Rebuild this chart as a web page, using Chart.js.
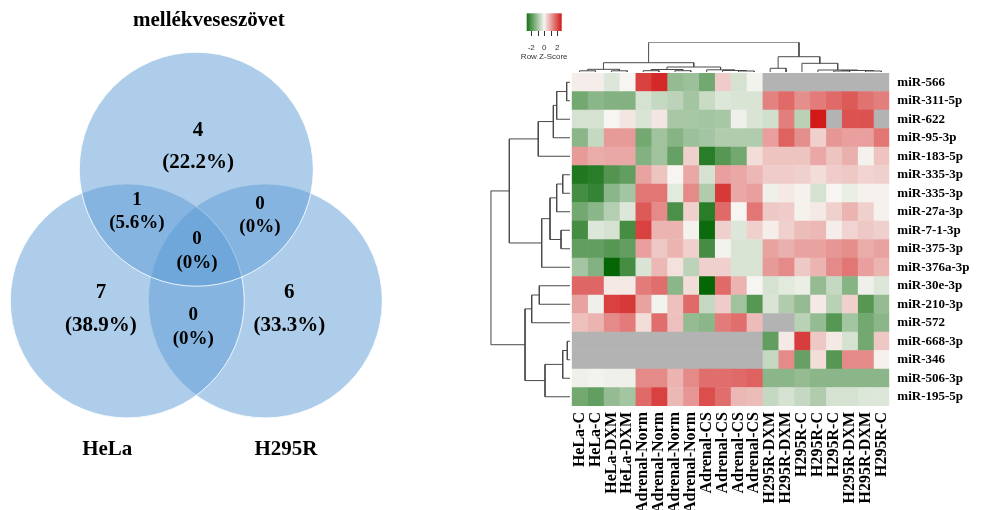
<!DOCTYPE html>
<html>
<head>
<meta charset="utf-8">
<script src="https://cdn.jsdelivr.net/npm/chart.js@4.4.1/dist/chart.umd.min.js"></script>
<style>
  html, body { margin: 0; padding: 0; background: #fff; }
  #wrap { position: relative; width: 985px; height: 510px; }
  canvas { position: absolute; left: 0; top: 0; }
</style>
</head>
<body>
<div id="wrap">
  <canvas id="venn" width="985" height="510"></canvas>
  <canvas id="heat" width="985" height="510"></canvas>
  <canvas id="colTree" width="985" height="510"></canvas>
  <canvas id="rowTree" width="985" height="510"></canvas>
</div>
<script>
// ---- Venn data ----
const setLabels = ['mellékveseszövet', 'HeLa', 'H295R'];
// regions: top only, HeLa only, H295R only, top∩HeLa, top∩H295R, all three, HeLa∩H295R
const regionCounts = [4, 7, 6, 1, 0, 0, 0];

// ---- heatmap data ----
const colLabels = ['HeLa-C', 'HeLa-C', 'HeLa-DXM', 'HeLa-DXM',
  'Adrenal-Norm', 'Adrenal-Norm', 'Adrenal-Norm', 'Adrenal-Norm',
  'Adrenal-CS', 'Adrenal-CS', 'Adrenal-CS', 'Adrenal-CS',
  'H295R-DXM', 'H295R-DXM', 'H295R-C', 'H295R-C', 'H295R-C', 'H295R-DXM', 'H295R-DXM', 'H295R-C'];
const rowLabels = ['miR-566', 'miR-311-5p', 'miR-622', 'miR-95-3p', 'miR-183-5p', 'miR-335-3p',
  'miR-335-3p', 'miR-27a-3p', 'miR-7-1-3p', 'miR-375-3p', 'miR-376a-3p', 'miR-30e-3p',
  'miR-210-3p', 'miR-572', 'miR-668-3p', 'miR-346', 'miR-506-3p', 'miR-195-5p'];
const _ = null; // not detected
const zScores = [
  [0.1, 0.1, -0.3, 0, 2.2, 2.5, -1.2, -1.1, -1.6, 0.5, -0.4, -0.05, _, _, _, _, _, _, _, _],
  [-1.6, -1.3, -1.4, -1.4, -0.4, -0.6, -0.7, -1.0, -0.55, -0.3, -0.35, -0.35, 1.4, 1.7, 1.25, 1.5, 1.7, 1.9, 1.6, 1.45],
  [-0.4, -0.4, 0, 0.2, -0.35, 0.2, -0.95, -0.95, -1.0, -0.95, -0.1, -0.35, -0.45, 1.45, -0.75, 2.7, _, 2.0, 2.0, _],
  [-1.3, -0.6, 1.1, 1.1, -1.6, -1.05, -1.35, -1.1, -1.0, -0.85, -0.85, -0.85, 1.05, 1.8, 1.25, 0.45, 1.15, 1.05, 1.05, 1.55],
  [1.1, 0.9, 0.95, 0.95, -1.4, -1.05, -1.75, 0.45, -2.5, -1.95, -1.6, 0.3, 0.6, 0.6, 0.6, 0.95, 0.6, 0.85, 0.05, 0.6],
  [-2.6, -2.5, -2.0, -1.8, 1.0, 0.6, 0, 0.95, -0.4, 1.05, 0.95, 0.75, 0.5, 0.5, 0.45, 0.3, 0.5, 0.55, 0.4, 0.45],
  [-2.15, -2.35, -1.3, -1.0, 1.55, 1.55, -0.25, 1.3, -0.85, 2.3, 0.95, 1.05, -0.1, 0.15, 0.05, -0.4, 0, -0.15, 0.05, 0.05],
  [-1.6, -1.3, -0.8, -0.3, 1.9, 1.3, -2.1, 0.45, -2.5, 1.7, 0, 1.55, 0.55, 0.5, 0.05, 0.15, 0.45, 0.8, 0.45, 0.05],
  [-2.15, -0.3, -0.4, -2.15, 2.2, 0.8, 0.8, 0.05, -2.85, 0.45, -0.3, 0.45, 0.1, 0.45, 0.7, 0.75, 0.1, 0.4, 0.55, 0.45],
  [-1.8, -1.8, -1.95, -1.8, 1.05, 0.55, 0.8, 0.45, -2.15, -0.05, -0.35, -0.35, 1.0, 0.85, 1.0, 1.0, 1.15, 1.25, 0.9, 1.0],
  [-1.0, -1.4, -2.95, -2.15, -0.35, 0.75, 0.25, -0.7, 0.45, 0.45, -0.35, -0.35, 1.1, 1.3, 0.55, 0.8, 1.3, 1.55, 1.05, 0.8],
  [1.75, 1.75, 0.15, 0.15, 1.5, 1.65, -1.3, 0.3, -2.95, 1.7, 0.8, 0, -0.4, -0.25, -0.15, -1.2, -0.6, -1.35, -0.1, -0.3],
  [1.0, -0.1, 2.2, 2.3, 1.0, -0.05, 0.65, 1.7, -0.6, 0.5, -1.05, -1.95, -0.35, -0.85, -1.2, 0.15, -0.75, 0.45, -1.95, -1.2],
  [0.65, 0.8, 1.3, 1.5, 0.3, 1.65, 0.65, -1.2, -1.3, 1.5, 1.65, 0.7, _, _, -0.75, -1.2, -1.95, -1.0, -1.6, -1.3],
  [_, _, _, _, _, _, _, _, _, _, _, _, -1.8, 0.15, 2.25, 0.55, 0.15, -0.4, -1.6, 0.55],
  [_, _, _, _, _, _, _, _, _, _, _, _, -0.6, 1.3, -1.75, 0.3, -1.95, 1.3, 1.3, 0.05],
  [-0.1, -0.05, -0.1, -0.1, 1.3, 1.3, 0.8, 1.3, 1.65, 1.65, 1.7, 1.8, -1.3, -1.3, -1.2, -1.3, -1.3, -1.3, -1.3, -1.3],
  [-1.6, -1.8, -1.2, -1.0, 1.7, 2.2, 0.75, 1.15, 2.05, 1.65, 0.75, 0.7, -0.6, -0.4, -0.6, -0.85, -0.4, -0.4, -0.3, -0.3]
];
const keyTicks = [-2, -1, 0, 1, 2];
const keyTickLabels = [-2, 0, 2];

// ---- dendrograms (hclust style: negative = leaf, positive = earlier merge) ----
const colMerge = [[-1, -2], [-3, -4], [1, 2], [-5, -6], [-7, -8], [4, 5], [-11, -12], [-10, 7], [-9, 8], [6, 9],
  [3, 10], [-13, -14], [-17, -18], [-19, -20], [13, 14], [-16, 15], [-15, 16], [12, 17], [11, 18]];
const colHeight = [0.04, 0.04, 0.091, 0.044, 0.044, 0.084, 0.034, 0.05, 0.074, 0.168,
  0.313, 0.125, 0.034, 0.034, 0.05, 0.067, 0.293, 0.515, 1.0];
const rowMerge = [[-1, -2], [1, -3], [2, -4], [3, -5], [-6, -7], [5, -8], [-9, -10], [6, 7], [8, -11], [4, 9],
  [-12, -13], [11, -14], [-15, -16], [13, -17], [14, -18], [12, 15], [10, 16]];
const rowHeight = [0.042, 0.168, 0.21, 0.40, 0.092, 0.168, 0.113, 0.252, 0.357, 0.765,
  0.387, 0.483, 0.034, 0.092, 0.315, 0.567, 1.0];

// ---- styling ----
const SERIF = '"Liberation Serif", "Times New Roman", serif';
const SANS = '"Liberation Sans", Arial, sans-serif';
const NA_COLOR = '#b3b3b3';
const LINE = '#4a4a4a';
const Z_MAX = 3;
Chart.defaults.font.family = SERIF;
Chart.defaults.color = '#000';

function zColor(z) {
  if (z === null) return NA_COLOR;
  const t = Math.max(-1, Math.min(1, z / Z_MAX));
  const mid = [246, 245, 241];
  const hi = t < 0 ? [0, 100, 0] : [205, 0, 0];
  const a = Math.abs(t);
  const c = mid.map((m, i) => Math.round(m + (hi[i] - m) * a));
  return `rgb(${c[0]},${c[1]},${c[2]})`;
}

// ===================== Venn =====================
const VENN_PX = 117;              // pixels per unit (unit = circle radius)
const VENN_ORIGIN = [196.3, 257]; // pixel of venn (0,0)
const circleCenters = [[0, 0.75], [-0.59, -0.375], [0.59, -0.375]];
const regionAnchors = [
  { x: 0.015, y: 0.944, size: 21, gap: 32.5 },
  { x: -0.815, y: -0.446, size: 21, gap: 32.5 },
  { x: 0.795, y: -0.446, size: 21, gap: 32.5 },
  { x: -0.507, y: 0.387, size: 19, gap: 23.5 },
  { x: 0.544, y: 0.355, size: 19, gap: 23.5 },
  { x: 0.006, y: 0.049, size: 19, gap: 24 },
  { x: -0.026, y: -0.600, size: 19, gap: 24.5 }
];
const setAnchors = [{ x: 0.107, y: 2.02 }, { x: -0.761, y: -1.644 }, { x: 0.767, y: -1.644 }];
const total = regionCounts.reduce((s, v) => s + v, 0);
const pct = n => n === 0 ? '0' : (n / total * 100).toFixed(1);

const vennText = {
  id: 'vennText',
  afterDatasetsDraw(chart) {
    const { ctx, scales: { x, y } } = chart;
    ctx.save();
    ctx.fillStyle = '#000';
    ctx.textAlign = 'center';
    ctx.textBaseline = 'middle';
    regionCounts.forEach((n, i) => {
      const a = regionAnchors[i];
      const px = x.getPixelForValue(a.x), py = y.getPixelForValue(a.y);
      ctx.font = `bold ${a.size}px ${SERIF}`;
      ctx.fillText(String(n), px, py - a.gap / 2);
      ctx.fillText('(' + pct(n) + '%)', px, py + a.gap / 2);
    });
    ctx.font = `bold 21px ${SERIF}`;
    setLabels.forEach((s, i) => {
      ctx.fillText(s, x.getPixelForValue(setAnchors[i].x), y.getPixelForValue(setAnchors[i].y));
    });
    ctx.restore();
  }
};

new Chart(document.getElementById('venn'), {
  type: 'scatter',
  data: {
    datasets: circleCenters.map(([cx, cy]) => ({
      data: [{ x: cx, y: cy }],
      backgroundColor: 'rgba(91,155,213,0.5)',
      borderColor: 'rgba(255,255,255,0.85)',
      borderWidth: 1,
      pointRadius: ctx => {
        const s = ctx.chart.scales.x;
        return s.getPixelForValue(1) - s.getPixelForValue(0);
      }
    }))
  },
  options: {
    responsive: false, animation: false, events: [],
    layout: { padding: 0 },
    plugins: { legend: { display: false }, tooltip: { enabled: false } },
    scales: {
      x: { type: 'linear', display: false, min: -VENN_ORIGIN[0] / VENN_PX, max: (985 - VENN_ORIGIN[0]) / VENN_PX },
      y: { type: 'linear', display: false, min: -(510 - VENN_ORIGIN[1]) / VENN_PX, max: VENN_ORIGIN[1] / VENN_PX }
    }
  },
  plugins: [vennText]
});

// ===================== Heatmap =====================
const HM = { left: 571.7, right: 889.3, top: 73, bottom: 406 };

new Chart(document.getElementById('heat'), {
  type: 'bar',
  data: {
    labels: rowLabels,
    datasets: colLabels.map((name, c) => ({
      label: name,
      data: rowLabels.map(() => 1),
      backgroundColor: zScores.map(row => zColor(row[c])),
      borderWidth: 0,
      barPercentage: 1,
      categoryPercentage: 1,
      xAxisID: 'x',
      yAxisID: 'y'
    }))
  },
  options: {
    indexAxis: 'y',
    responsive: false, animation: false, events: [],
    layout: { padding: { left: HM.left, top: HM.top, right: 0, bottom: 0 } },
    plugins: { legend: { display: false }, tooltip: { enabled: false } },
    scales: {
      x: { type: 'linear', stacked: true, min: 0, max: colLabels.length, display: false },
      y: {
        type: 'category', stacked: true, position: 'right',
        grid: { display: false, drawTicks: false }, border: { display: false },
        ticks: { padding: 8, color: '#000', autoSkip: false, font: { family: SERIF, size: 13, weight: 'bold' } },
        afterFit(s) { s.width = 985 - HM.right; }
      },
      xCol: {
        type: 'category', labels: colLabels, position: 'bottom', offset: true,
        min: 0, max: colLabels.length - 1,
        grid: { display: false, drawTicks: false }, border: { display: false },
        ticks: { minRotation: 90, maxRotation: 90, autoSkip: false, padding: 6, color: '#000',
          font: { family: SERIF, size: 16, weight: 'bold' } },
        afterFit(s) { s.height = 510 - HM.bottom; }
      }
    }
  }
});

// ===================== Dendrograms =====================
function dendroSegments(merge, height) {
  const pos = [], hts = [], segs = [];
  const get = id => id < 0 ? [(-id - 1) + 0.5, 0] : [pos[id - 1], hts[id - 1]];
  merge.forEach(([a, b], k) => {
    const [pa, ha] = get(a), [pb, hb] = get(b);
    const hk = height[k];
    pos.push((pa + pb) / 2);
    hts.push(hk);
    segs.push([[pa, ha], [pa, hk], [pb, hk], [pb, hb]]);
  });
  return segs;
}

const treeDataset = pts => ({
  data: pts, showLine: true, pointRadius: 0, borderColor: LINE, borderWidth: 1, fill: false
});

// colour key drawn alongside the column tree
const colorKey = {
  id: 'colorKey',
  afterDraw(chart) {
    const ctx = chart.ctx;
    const box = { x: 526.7, y: 13.3, w: 35, h: 17.7 };
    const range = 2.7;
    const g = ctx.createLinearGradient(box.x, 0, box.x + box.w, 0);
    for (let i = 0; i <= 20; i++) {
      g.addColorStop(i / 20, zColor(-range + 2 * range * i / 20));
    }
    ctx.save();
    ctx.fillStyle = g;
    ctx.fillRect(box.x, box.y, box.w, box.h);
    const kx = v => box.x + box.w / 2 + v / range * box.w / 2;
    ctx.strokeStyle = '#333';
    ctx.lineWidth = 1;
    keyTicks.forEach(v => {
      ctx.beginPath();
      ctx.moveTo(Math.round(kx(v)) + 0.5, box.y + box.h);
      ctx.lineTo(Math.round(kx(v)) + 0.5, box.y + box.h + 5);
      ctx.stroke();
    });
    ctx.fillStyle = '#333';
    ctx.font = `8px ${SANS}`;
    ctx.textAlign = 'center';
    ctx.textBaseline = 'middle';
    keyTickLabels.forEach(v => ctx.fillText(String(v), kx(v), 47.5));
    ctx.fillText('Row Z-Score', box.x + box.w / 2, 56.5);
    ctx.restore();
  }
};

new Chart(document.getElementById('colTree'), {
  type: 'scatter',
  data: { datasets: dendroSegments(colMerge, colHeight).map(s => treeDataset(s.map(([p, h]) => ({ x: p, y: h })))) },
  options: {
    responsive: false, animation: false, events: [],
    layout: { padding: { left: HM.left, right: 985 - HM.right, top: 42.3, bottom: 510 - 72 } },
    plugins: { legend: { display: false }, tooltip: { enabled: false } },
    scales: {
      x: { type: 'linear', display: false, min: 0, max: colLabels.length },
      y: { type: 'linear', display: false, min: 0, max: 1 }
    }
  },
  plugins: [colorKey]
});

new Chart(document.getElementById('rowTree'), {
  type: 'scatter',
  data: { datasets: dendroSegments(rowMerge, rowHeight).map(s => treeDataset(s.map(([p, h]) => ({ x: h, y: p })))) },
  options: {
    responsive: false, animation: false, events: [],
    layout: { padding: { left: 490.7, right: 985 - 570, top: HM.top, bottom: 510 - HM.bottom } },
    plugins: { legend: { display: false }, tooltip: { enabled: false } },
    scales: {
      x: { type: 'linear', display: false, min: 0, max: 1, reverse: true },
      y: { type: 'linear', display: false, min: 0, max: rowLabels.length, reverse: true }
    }
  }
});
</script>
</body>
</html>
